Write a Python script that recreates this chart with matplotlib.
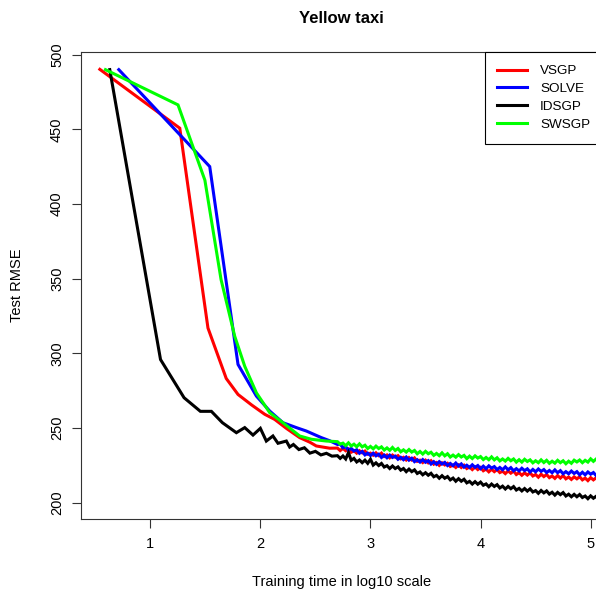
import matplotlib
matplotlib.use("Agg")
import matplotlib.pyplot as plt

plt.rcParams['font.family'] = ['Liberation Sans', 'DejaVu Sans']

# Test RMSE vs training time (log10 seconds)
labels = ["VSGP", "SOLVE", "IDSGP", "SWSGP"]
colors = ["#ff0000", "#0000ff", "#000000", "#00ff00"]

# common x grid for the long noisy tails
tail_x = [2.700, 2.725, 2.750, 2.775, 2.800, 2.825, 2.850, 2.875, 2.900, 2.925,
          2.950, 2.975, 3.000, 3.025, 3.050, 3.075, 3.100, 3.125, 3.150, 3.175,
          3.200, 3.225, 3.250, 3.275, 3.300, 3.325, 3.350, 3.375, 3.400, 3.425,
          3.450, 3.475, 3.500, 3.525, 3.550, 3.575, 3.600, 3.625, 3.650, 3.675,
          3.700, 3.725, 3.750, 3.775, 3.800, 3.825, 3.850, 3.875, 3.900, 3.925,
          3.950, 3.975, 4.000, 4.025, 4.050, 4.075, 4.100, 4.125, 4.150, 4.175,
          4.200, 4.225, 4.250, 4.275, 4.300, 4.325, 4.350, 4.375, 4.400, 4.425,
          4.450, 4.475, 4.500, 4.525, 4.550, 4.575, 4.600, 4.625, 4.650, 4.675,
          4.700, 4.725, 4.750, 4.775, 4.800, 4.825, 4.850, 4.875, 4.900, 4.925,
          4.950, 4.975, 5.000, 5.025, 5.050, 5.075, 5.100]

vsgp_x = [0.542, 1.268, 1.524, 1.69, 1.797, 1.92, 2.04, 2.13, 2.236, 2.357, 2.45, 2.508, 2.63]
vsgp_y = [490.2, 450.8, 317.0, 283.2, 272.5, 265.5, 259.2, 255.8, 249.8, 243.6, 240.5, 238.0, 236.5]
vsgp_tail = [236.6, 234.9, 236.4, 234.8, 236.0, 233.8, 234.8, 233.2, 234.8, 233.4,
             234.6, 232.5, 233.2, 231.8, 233.4, 231.6, 233.2, 231.0, 232.0, 230.1,
             231.9, 230.5, 231.5, 229.4, 230.4, 228.6, 230.2, 228.6, 230.0, 227.7,
             228.5, 226.9, 228.5, 226.7, 228.1, 225.8, 226.9, 225.0, 226.7, 225.3,
             226.4, 224.3, 225.2, 223.6, 225.3, 223.6, 225.1, 222.9, 223.9, 222.2,
             223.9, 222.2, 223.6, 221.4, 222.5, 220.7, 222.4, 220.8, 222.2, 220.2,
             221.1, 219.5, 221.3, 219.8, 221.2, 218.9, 220.1, 218.4, 220.0, 218.5,
             220.0, 217.9, 218.9, 217.1, 219.1, 217.5, 218.9, 216.8, 217.9, 216.3,
             218.2, 216.5, 218.2, 216.0, 217.2, 215.6, 217.3, 216.0, 217.4, 215.3,
             216.5, 214.8, 216.8, 215.3, 216.7, 214.8, 216.1]

solve_x = [0.714, 1.54, 1.797, 1.964, 2.085, 2.205, 2.327, 2.418, 2.554, 2.63]
solve_y = [490.0, 425.1, 292.6, 271.4, 261.4, 253.6, 250.3, 248.0, 243.6, 241.5]
solve_tail = [239.0, 239.2, 236.8, 237.5, 235.2, 236.4, 234.6, 235.5, 233.1, 234.4,
              232.0, 233.2, 231.6, 233.2, 231.4, 232.5, 230.3, 231.9, 230.1, 231.9,
              230.3, 231.2, 229.1, 230.4, 228.8, 230.6, 228.5, 229.8, 227.5, 228.8,
              227.2, 228.9, 227.1, 228.2, 225.9, 227.5, 225.7, 227.5, 225.9, 227.0,
              224.9, 226.3, 224.8, 226.6, 224.6, 226.0, 223.8, 225.1, 223.6, 225.4,
              223.7, 224.9, 222.8, 224.5, 222.8, 224.7, 223.2, 224.2, 222.2, 223.6,
              222.1, 224.0, 222.1, 223.5, 221.4, 222.8, 221.3, 223.1, 221.5, 222.7,
              220.6, 222.3, 220.7, 222.6, 221.0, 222.2, 220.2, 221.6, 220.1, 222.0,
              220.1, 221.5, 219.4, 220.8, 219.4, 221.2, 219.6, 220.8, 218.7, 220.4,
              218.7, 220.6, 219.1, 220.2, 218.2, 219.6, 218.3]

idsgp_x = [0.632, 1.093, 1.307, 1.455, 1.555, 1.655, 1.782, 1.858, 1.933, 2.0, 2.054,
           2.114, 2.16, 2.236, 2.266, 2.30, 2.35, 2.40, 2.45, 2.50, 2.55, 2.60, 2.65]
idsgp_y = [490.0, 295.9, 270.3, 261.2, 261.2, 253.6, 246.9, 250.3, 245.3, 249.8, 241.3,
           244.7, 239.8, 241.3, 237.3, 239.0, 235.6, 236.8, 233.2, 234.4, 232.0, 233.1, 231.2]
idsgp_tail = [231.5, 229.7, 231.3, 229.3, 233.5, 228.4, 229.7, 227.3, 228.6, 226.8,
              228.5, 226.4, 229.1, 225.2, 226.7, 224.9, 226.3, 223.9, 224.8, 222.9,
              224.6, 222.9, 224.0, 221.8, 222.9, 220.8, 222.5, 220.8, 222.0, 219.6,
              220.6, 218.7, 220.1, 218.4, 219.7, 217.4, 218.3, 216.4, 218.1, 216.4,
              217.5, 215.3, 216.5, 214.4, 216.1, 214.4, 215.7, 213.3, 214.3, 212.5,
              214.1, 212.4, 213.8, 211.7, 212.6, 210.7, 212.5, 210.9, 212.1, 209.9,
              211.1, 209.2, 210.9, 209.4, 210.8, 208.5, 209.6, 207.9, 209.5, 207.8,
              209.3, 207.2, 208.1, 206.3, 208.2, 206.6, 207.9, 205.8, 207.0, 205.1,
              206.9, 205.4, 206.8, 204.5, 205.7, 204.0, 205.6, 204.0, 205.5, 203.5,
              204.5, 202.7, 204.6, 203.0, 204.3, 202.2, 203.5]

swsgp_x = [0.593, 1.252, 1.496, 1.643, 1.767, 1.858, 1.964, 2.085, 2.205, 2.357, 2.463, 2.6]
swsgp_y = [490.0, 466.4, 416.0, 349.4, 311.5, 291.4, 273.6, 260.3, 253.6, 244.7, 242.5, 241.3]
swsgp_tail = [240.9, 239.2, 239.9, 238.2, 240.1, 238.0, 239.2, 237.5, 239.4, 237.4,
              238.5, 236.3, 237.7, 236.1, 237.9, 236.3, 237.4, 235.3, 236.7, 235.1,
              237.0, 235.0, 236.3, 234.1, 235.4, 233.9, 235.6, 233.9, 235.0, 232.8,
              234.3, 232.6, 234.4, 232.8, 233.8, 231.7, 233.0, 231.5, 233.4, 231.4,
              232.8, 230.6, 231.9, 230.5, 232.2, 230.6, 231.7, 229.5, 231.2, 229.6,
              231.4, 229.9, 230.9, 228.9, 230.3, 228.8, 230.7, 228.7, 230.1, 228.0,
              229.3, 227.9, 229.7, 228.1, 229.3, 227.2, 228.8, 227.2, 229.1, 227.6,
              228.7, 226.7, 228.1, 226.8, 228.7, 226.9, 228.4, 226.4, 227.8, 226.5,
              228.4, 226.8, 228.1, 226.1, 227.8, 226.4, 228.5, 227.3, 228.6, 226.8,
              228.4, 227.2, 229.4, 227.7, 229.3, 227.4, 229.3]

series = [(vsgp_x, vsgp_y, vsgp_tail),
          (solve_x, solve_y, solve_tail),
          (idsgp_x, idsgp_y, idsgp_tail),
          (swsgp_x, swsgp_y, swsgp_tail)]

fig = plt.figure(figsize=(5.96, 5.98), dpi=100)
# plot region runs a little past the right edge, like the cropped original
ax = fig.add_axes([0.1354, 0.1321, 0.8763, 0.7809])

for (xs, ys, tail), lab, col in zip(series, labels, colors):
    ax.plot(xs + tail_x, ys + tail, color=col, lw=2.2, label=lab,
            solid_joinstyle='miter')

ax.set_xlim(0.368, 5.112)
ax.set_ylim(189.1, 501.8)
ax.set_xticks([1, 2, 3, 4, 5])
ax.set_yticks([200, 250, 300, 350, 400, 450, 500])
for lab in ax.get_yticklabels():
    lab.set_rotation(90)
    lab.set_va('center')
ax.tick_params(direction='out', length=6.5, width=0.8, labelsize=10.5, color='#333333')
ax.tick_params(axis='y', pad=5.5)
ax.tick_params(axis='x', pad=6.5)
for s in ax.spines.values():
    s.set_linewidth(0.8)
    s.set_color('#333333')

ax.set_title("Yellow taxi", fontsize=12, fontweight='bold', pad=21)
ax.set_xlabel("Training time in log10 scale", fontsize=10.5, labelpad=17)
ax.set_ylabel("Test RMSE", fontsize=10.5, labelpad=19)

leg = ax.legend(loc='upper right', bbox_to_anchor=(1, 1), borderaxespad=0,
                fancybox=False, edgecolor='black', framealpha=1, fontsize=9.7,
                handlelength=2.16, handletextpad=1.0, borderpad=0.95,
                labelspacing=0.41)
leg.get_frame().set_linewidth(0.8)
for h in leg.get_lines():
    h.set_linewidth(2.2)

fig.savefig("out.png", dpi=100)
